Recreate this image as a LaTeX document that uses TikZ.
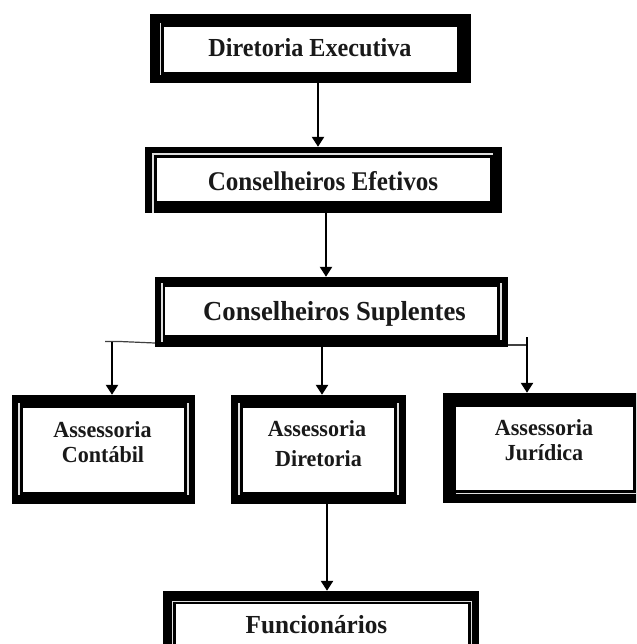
\documentclass[tikz,border=0pt]{standalone}
\usepackage{fontspec}
\setmainfont{Liberation Serif}
\usetikzlibrary{arrows.meta}
\tikzset{
  outerbox/.style={fill=black, draw=none, inner sep=0pt},
  innerbox/.style={fill=white, draw=none, inner sep=0pt},
  gap/.style={draw=gray!25, line width=1.3pt},
  lbl/.style 2 args={inner sep=0pt, anchor=base, font=\bfseries\fontsize{#1}{#1}\selectfont\addfontfeatures{FakeStretch=#2}, text=black!90},
  conn/.style={line width=2.4pt, -{Triangle[width=12pt,length=10pt]}},
  branch/.style={line width=1.2pt, draw=black!75},
}
\begin{document}
\begin{tikzpicture}[x=1pt,y=-1pt]
\useasboundingbox (0,0) rectangle (636,644);
\fill[white] (0,0) rectangle (636,644);
\clip (0,0) rectangle (636,644);

% Diretoria Executiva
\node[outerbox, minimum width=321pt, minimum height=69pt] (b1) at (310.5,48.5) {};
\node[innerbox, minimum width=293pt, minimum height=45pt] (b1i) at (310.5,49.5) {};
\draw[gap] (160.5,23) -- (160.5,75);
\node[lbl={26}{0.93}] (t1) at (310,57) {Diretoria Executiva};

% Conselheiros Efetivos
\node[outerbox, minimum width=357pt, minimum height=66pt] (b2) at (323.5,180) {};
\node[innerbox, minimum width=333pt, minimum height=43pt] (b2i) at (323.5,179.5) {};
\draw[gap] (153,213) -- (153,154) -- (493,154);
\node[lbl={27}{0.93}] (t2) at (323,190) {Conselheiros Efetivos};

% Conselheiros Suplentes
\node[outerbox, minimum width=353pt, minimum height=70pt] (b3) at (331.5,312) {};
\node[innerbox, minimum width=332pt, minimum height=48pt] (b3i) at (331,311) {};
\draw[gap] (162,283) -- (162,342);
\draw[gap] (501,283) -- (501,340);
\node[lbl={27.5}{0.97}] (t3) at (334.5,320) {Conselheiros Suplentes};

% Assessoria Contabil
\node[outerbox, minimum width=183pt, minimum height=109pt] (bA) at (103.5,449.5) {};
\node[innerbox, minimum width=161pt, minimum height=84pt] (bAi) at (103.5,450) {};
\draw[gap] (19,403) -- (19,495);
\draw[gap] (188,403) -- (188,495);
\node[lbl={23}{0.96}] (tA1) at (102.5,437) {Assessoria};
\node[lbl={23}{0.96}] (tA2) at (103,462) {Contábil};

% Assessoria Diretoria
\node[outerbox, minimum width=175pt, minimum height=109pt] (bB) at (318.5,449.5) {};
\node[innerbox, minimum width=151pt, minimum height=84pt] (bBi) at (318.5,450) {};
\draw[gap] (239,403) -- (239,495);
\draw[gap] (398,403) -- (398,495);
\node[lbl={23}{0.96}] (tB1) at (317,436) {Assessoria};
\node[lbl={23}{0.96}] (tB2) at (318.5,466) {Diretoria};

% Assessoria Juridica
\node[outerbox, minimum width=207pt, minimum height=110pt] (bC) at (546.5,448) {};
\node[innerbox, minimum width=177pt, minimum height=83pt] (bCi) at (544.5,448.5) {};
\draw[gap] (456,493.5) -- (640,493.5);
\node[lbl={23}{0.96}] (tC1) at (544,435) {Assessoria};
\node[lbl={23}{0.96}] (tC2) at (544,460) {Jurídica};

% Funcionarios
\node[outerbox, minimum width=316pt, minimum height=79pt] (bF) at (321,630.5) {};
\node[innerbox, minimum width=292pt, minimum height=66pt] (bFi) at (322,637) {};
\draw[gap] (172.5,660) -- (172.5,601.5) -- (471.5,601.5) -- (471.5,660);
\node[lbl={26}{0.97}] (tF) at (316.5,633) {Funcionários};

% connectors
\draw[conn] ([xshift=7.5pt]b1.south) -- ([xshift=-5.5pt]b2.north);
\draw[conn] ([xshift=2.5pt]b2.south) -- ([xshift=-5.5pt]b3.north);
\draw[conn] ([xshift=-9.5pt]b3.south) -- ([xshift=3.5pt]bB.north);
\draw[conn] ([xshift=8.5pt]bB.south) -- ([xshift=6pt]bF.north);

\coordinate (cA) at (112,341.5);
\coordinate (cAt) at (105,341.5);
\draw[branch] ([yshift=-31pt]b3.west) -- (120,341.5) -- (cAt);
\draw[conn] (cA) -- ([xshift=8.5pt]bA.north);

\coordinate (cC) at (527,345);
\coordinate (cCt) at (527,337);
\draw[branch] ([yshift=-33pt]b3.east) -- (cC);
\draw[conn] (cCt) -- ([xshift=-19.5pt]bC.north);
\end{tikzpicture}
\end{document}
